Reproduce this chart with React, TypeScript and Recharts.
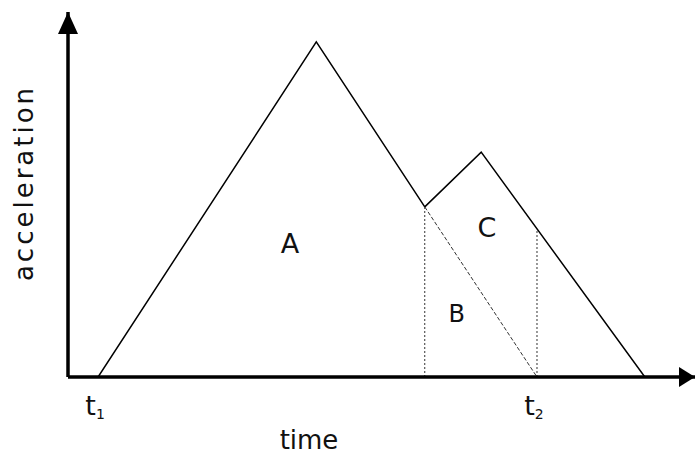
import React from 'react';
import { ComposedChart, Line, XAxis, YAxis, ReferenceDot, Label } from 'recharts';

// time / acceleration values (arbitrary units)
const t1 = 0.48;
const t2 = 7.48;
const tJoin = 5.69;

const pulseA = [
  { t: t1, a: 0 },
  { t: 3.96, a: 9.18 },
  { t: tJoin, a: 4.66 },
];
const pulseATail = [
  { t: tJoin, a: 4.66 },
  { t: t2, a: 0 },
];
const pulseC = [
  { t: tJoin, a: 4.66 },
  { t: 6.59, a: 6.16 },
  { t: 9.2, a: 0 },
];
const dropJoin = [
  { t: tJoin, a: 0 },
  { t: tJoin, a: 4.66 },
];
const dropT2 = [
  { t: t2, a: 0 },
  { t: t2, a: 4.05 },
];

const tickTimes = [t1, t2];
const tickSubs = ['1', '2'];

const regionLabels = [
  { name: 'A', t: 3.54, a: 3.65, size: 27 },
  { name: 'C', t: 6.68, a: 4.1, size: 27 },
  { name: 'B', t: 6.2, a: 1.73, size: 24 },
];

const FONT = '"DejaVu Sans", sans-serif';
const INK = '#111';

const TimeTick = (props: any) => {
  const { x, y, payload } = props;
  const i = tickTimes.indexOf(payload.value);
  return (
    <text x={x - 3} y={y + 38} fontFamily={FONT} fontSize={27} fill={INK} textAnchor="middle">
      t
      <tspan fontSize={14} dy={4}>
        {tickSubs[i]}
      </tspan>
    </text>
  );
};

const UpArrow = (props: any) => {
  const { cx, cy } = props;
  return <polygon points={`${cx},${cy} ${cx - 10},${cy + 22} ${cx + 10},${cy + 22}`} fill="#000" />;
};

const RightArrow = (props: any) => {
  const { cx, cy } = props;
  return <polygon points={`${cx},${cy} ${cx - 16},${cy - 10} ${cx - 16},${cy + 10}`} fill="#000" />;
};

export default function App() {
  return (
    <div style={{ position: 'absolute', left: 0, top: 0, background: '#fff' }}>
      <ComposedChart width={695} height={460} margin={{ top: 12, right: 0, left: 28, bottom: 53 }}>
        <XAxis
          type="number"
          dataKey="t"
          domain={[0, 10]}
          ticks={tickTimes}
          tick={<TimeTick />}
          tickLine={false}
          tickSize={0}
          tickMargin={0}
          height={30}
          axisLine={{ stroke: '#000', strokeWidth: 3.5 }}
          allowDataOverflow
        >
          <Label
            content={(p: any) => (
              <text
                x={p.viewBox.x + 241}
                y={p.viewBox.y + 72}
                fontFamily={FONT}
                fontSize={26}
                fill={INK}
                textAnchor="middle"
              >
                time
              </text>
            )}
          />
        </XAxis>
        <YAxis
          type="number"
          dataKey="a"
          domain={[0, 10]}
          width={40}
          tick={false}
          tickLine={false}
          axisLine={{ stroke: '#000', strokeWidth: 3.5 }}
          allowDataOverflow
        >
          <Label
            content={(p: any) => {
              const cx = p.viewBox.x + 5;
              const cy = p.viewBox.y + 171;
              return (
                <text
                  x={cx}
                  y={cy}
                  transform={`rotate(-90 ${cx} ${cy})`}
                  fontFamily={FONT}
                  fontSize={26}
                  letterSpacing={3}
                  fill={INK}
                  textAnchor="middle"
                >
                  acceleration
                </text>
              );
            }}
          />
        </YAxis>

        <Line data={dropJoin} dataKey="a" stroke="#333" strokeWidth={1} strokeDasharray="2 2" dot={false} isAnimationActive={false} />
        <Line data={dropT2} dataKey="a" stroke="#333" strokeWidth={1} strokeDasharray="2 2" dot={false} isAnimationActive={false} />
        <Line data={pulseATail} dataKey="a" stroke="#333" strokeWidth={1} strokeDasharray="4 2" dot={false} isAnimationActive={false} />
        <Line data={pulseA} dataKey="a" stroke="#000" strokeWidth={1.5} dot={false} isAnimationActive={false} />
        <Line data={pulseC} dataKey="a" stroke="#000" strokeWidth={1.5} dot={false} isAnimationActive={false} />

        {regionLabels.map((r) => (
          <ReferenceDot
            key={r.name}
            x={r.t}
            y={r.a}
            shape={(p: any) => (
              <text
                x={p.cx}
                y={p.cy}
                fontFamily={FONT}
                fontSize={r.size}
                fill={INK}
                textAnchor="middle"
                dominantBaseline="central"
              >
                {r.name}
              </text>
            )}
          />
        ))}

        <ReferenceDot x={0} y={10} shape={<UpArrow />} ifOverflow="visible" />
        <ReferenceDot x={10} y={0} shape={<RightArrow />} ifOverflow="visible" />
      </ComposedChart>
    </div>
  );
}
